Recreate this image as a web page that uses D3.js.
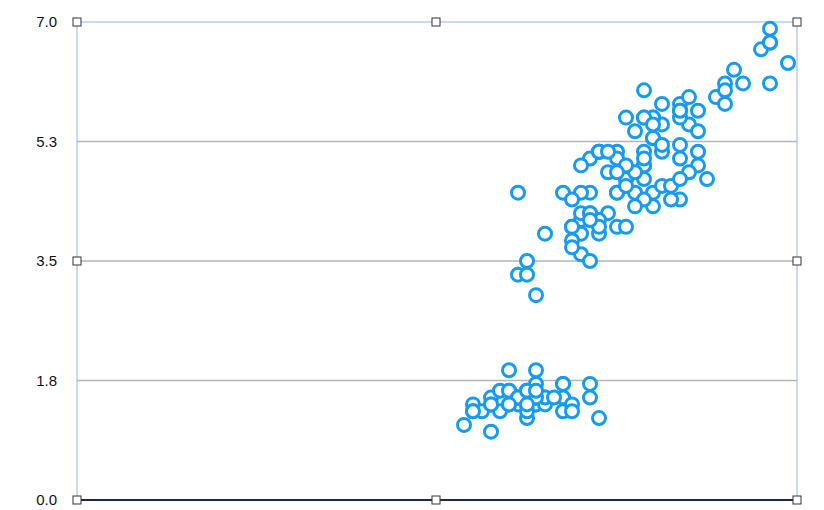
<!DOCTYPE html>
<html><head><meta charset="utf-8">
<script src="https://cdn.jsdelivr.net/npm/d3@7"></script>
<style>body{margin:0;background:#fff}text{font-family:"Liberation Sans",Arial,sans-serif}</style>
</head><body><svg id="c" width="824" height="510"></svg>
<script>
var sepal = [5.1,4.9,4.7,4.6,5.0,5.4,4.6,5.0,4.4,4.9,5.4,4.8,4.8,4.3,5.8,5.7,5.4,5.1,5.7,5.1,5.4,5.1,4.6,5.1,4.8,5.0,5.0,5.2,5.2,4.7,4.8,5.4,5.2,5.5,4.9,5.0,5.5,4.9,4.4,5.1,5.0,4.5,4.4,5.0,5.1,4.8,5.1,4.6,5.3,5.0,
7.0,6.4,6.9,5.5,6.5,5.7,6.3,4.9,6.6,5.2,5.0,5.9,6.0,6.1,5.6,6.7,5.6,5.8,6.2,5.6,5.9,6.1,6.3,6.1,6.4,6.6,6.8,6.7,6.0,5.7,5.5,5.5,5.8,6.0,5.4,6.0,6.7,6.3,5.6,5.5,5.5,6.1,5.8,5.0,5.6,5.7,5.7,6.2,5.1,5.7,
6.3,5.8,7.1,6.3,6.5,7.6,4.9,7.3,6.7,7.2,6.5,6.4,6.8,5.7,5.8,6.4,6.5,7.7,7.7,6.0,6.9,5.6,7.7,6.3,6.7,7.2,6.2,6.1,6.4,7.2,7.4,7.9,6.4,6.3,6.1,7.7,6.3,6.4,6.0,6.9,6.7,6.9,5.8,6.8,6.7,6.7,6.3,6.5,6.2,5.9];
var petal = [1.4,1.4,1.3,1.5,1.4,1.7,1.4,1.5,1.4,1.5,1.5,1.6,1.4,1.1,1.2,1.5,1.3,1.4,1.7,1.5,1.7,1.5,1.0,1.7,1.9,1.6,1.6,1.5,1.4,1.6,1.6,1.5,1.5,1.4,1.5,1.2,1.3,1.5,1.3,1.5,1.3,1.3,1.3,1.6,1.9,1.4,1.6,1.4,1.5,1.4,
4.7,4.5,4.9,4.0,4.6,4.5,4.7,3.3,4.6,3.9,3.5,4.2,4.0,4.7,3.6,4.4,4.5,4.1,4.5,3.9,4.8,4.0,4.9,4.7,4.3,4.4,4.8,5.0,4.5,3.5,3.8,3.7,3.9,5.1,4.5,4.5,4.7,4.4,4.1,4.0,4.4,4.6,4.0,3.3,4.2,4.2,4.2,4.3,3.0,4.1,
6.0,5.1,5.9,5.6,5.8,6.6,4.5,6.3,5.8,6.1,5.1,5.3,5.5,5.0,5.1,5.3,5.5,6.7,6.9,5.0,5.7,4.9,6.7,4.9,5.7,6.0,4.8,4.9,5.6,5.8,6.1,6.4,5.6,5.1,5.6,6.1,5.6,5.5,4.8,5.4,5.6,5.1,5.1,5.9,5.7,5.2,5.0,5.2,5.4,5.1];
var yTicks = [0, 1.75, 3.5, 5.25, 7];

var L = 77, R = 797, T = 22, B = 500;
var svg = d3.select("#c");
var x = d3.scaleLinear().domain([0, 8]).range([L, R]);
var y = d3.scaleLinear().domain([0, 7]).range([B, T]);

svg.append("g").selectAll("line").data(yTicks.slice(1, 4)).join("line")
    .attr("x1", L).attr("x2", R).attr("y1", d => y(d)).attr("y2", d => y(d))
    .attr("stroke", "#b5b5b5").attr("stroke-width", 1.5);

svg.append("rect").attr("x", L).attr("y", T).attr("width", R - L).attr("height", B - T)
    .attr("fill", "none").attr("stroke", "#8fb4f5").attr("stroke-width", 1);
svg.append("line").attr("x1", L).attr("x2", R).attr("y1", B).attr("y2", B)
    .attr("stroke", "#1c2a4a").attr("stroke-width", 2);

svg.append("g").selectAll("text").data(yTicks).join("text")
    .attr("x", 57).attr("y", d => y(d) + 5).attr("text-anchor", "end")
    .attr("font-size", 15).attr("fill", "#111").text(d => d3.format(".1f")(d));

var pts = sepal.map((s, i) => [s, petal[i]]);
svg.append("g").selectAll("circle").data(pts).join("circle")
    .attr("cx", d => x(d[0])).attr("cy", d => y(d[1])).attr("r", 6.5)
    .attr("fill", "#fff").attr("stroke", "#159bf2").attr("stroke-width", 3);

var mid = (L + R) / 2 - 1, midY = (T + B) / 2;
var handles = [[L,T],[mid,T],[R,T],[L,midY],[R,midY],[L,B],[mid,B],[R,B]];
svg.append("g").selectAll("rect").data(handles).join("rect")
    .attr("x", d => d[0] - 4).attr("y", d => d[1] - 4).attr("width", 8).attr("height", 8)
    .attr("fill", "#fff").attr("stroke", "#333").attr("stroke-width", 1);
</script></body></html>
